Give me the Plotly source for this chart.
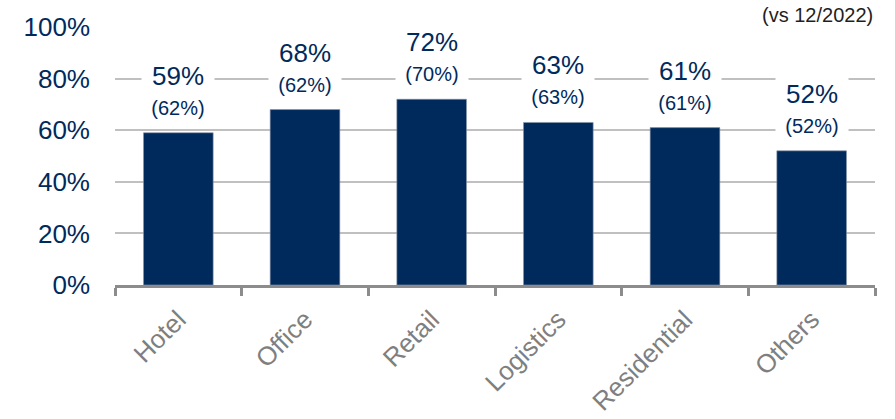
import plotly.graph_objects as go

# Occupancy by sector, current vs 12/2022
categories = ["Hotel", "Office", "Retail", "Logistics", "Residential", "Others"]
current_pct = [59, 68, 72, 63, 61, 52]
previous_pct = [62, 62, 70, 63, 61, 52]
y_ticks = [0, 20, 40, 60, 80, 100]
y_tick_text = [f"{v}%" for v in y_ticks]

NAVY = "#002a5c"
FONT = "Liberation Sans, Arial, sans-serif"

fig = go.Figure(
    go.Bar(
        x=categories,
        y=current_pct,
        width=0.55,
        marker=dict(color=NAVY, line=dict(color="#8a96a8", width=0.6)),
        hoverinfo="skip",
    )
)

annotations = []
for cat, cur, prev in zip(categories, current_pct, previous_pct):
    annotations.append(dict(
        x=cat, y=cur, xref="x", yref="y", text=f"{cur}%",
        showarrow=False, yanchor="middle", yshift=57, width=70,
        bgcolor="white", font=dict(family=FONT, size=26, color=NAVY),
    ))
    annotations.append(dict(
        x=cat, y=cur, xref="x", yref="y", text=f"({prev}%)",
        showarrow=False, yanchor="middle", yshift=25, width=70,
        bgcolor="white", font=dict(family=FONT, size=20, color=NAVY),
    ))

annotations.append(dict(
    x=1, y=1, xref="paper", yref="paper", text="(vs 12/2022)",
    showarrow=False, xanchor="right", yanchor="bottom", yshift=-1,
    font=dict(family=FONT, size=20, color="#1f1f1f"),
))

fig.update_layout(
    width=895,
    height=419,
    margin=dict(l=115, r=20, t=27, b=134),
    paper_bgcolor="white",
    plot_bgcolor="white",
    showlegend=False,
    font=dict(family=FONT),
    annotations=annotations,
    xaxis=dict(
        type="category",
        automargin=False,
        tickangle=-45,
        tickfont=dict(family=FONT, size=26, color="#7f7f7f"),
        showline=True,
        linecolor="#8c8c8c",
        linewidth=3,
        ticks="outside",
        tickson="boundaries",
        ticklen=8,
        tickwidth=3,
        tickcolor="#8c8c8c",
        showgrid=False,
        ticklabelstandoff=6,
    ),
    yaxis=dict(
        range=[0, 100],
        automargin=False,
        tickvals=y_ticks,
        ticktext=y_tick_text,
        tickfont=dict(family=FONT, size=26, color=NAVY),
        showgrid=True,
        gridcolor="#c0c0c0",
        gridwidth=2,
        zeroline=False,
        showline=False,
        ticks="",
        ticklabelstandoff=24,
    ),
)

fig.write_html("out.html")
